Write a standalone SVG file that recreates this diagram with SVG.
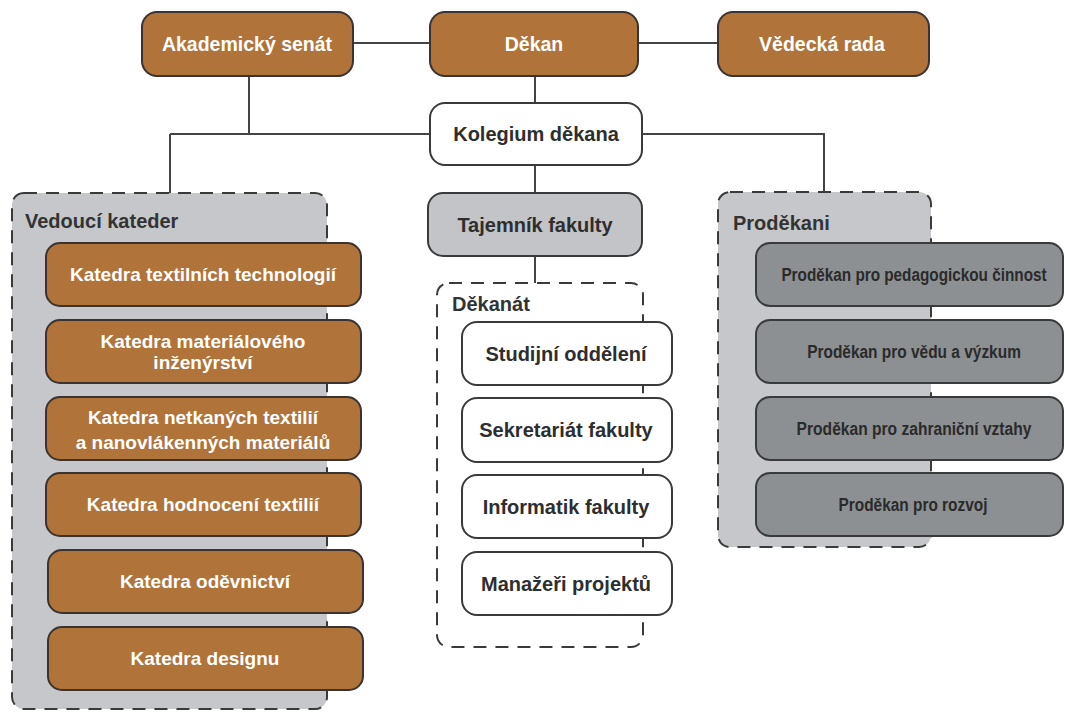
<svg xmlns="http://www.w3.org/2000/svg" width="1065" height="713" viewBox="0 0 1065 713">
<style>
.brown{fill:#b0733a;stroke:#3a3330;stroke-width:2}
.white{fill:#ffffff;stroke:#3a3a3a;stroke-width:2}
.grey{fill:#c2c4c7;stroke:#3a3a3a;stroke-width:2}
.dark{fill:#8d9093;stroke:#3a3a3a;stroke-width:2}
.cont{stroke:#3a3a3a;stroke-width:2;stroke-dasharray:13 9}
.line{fill:none;stroke:#444;stroke-width:2}
text{font-family:"Liberation Sans",Arial,sans-serif;font-weight:bold;text-anchor:middle}
.tw{fill:#fff;font-size:19px}
.top{fill:#fff;font-size:19.5px}
.tb{fill:#2e2e2e;font-size:20px}
.tc{fill:#2a2a2a;font-size:19px}
.title{fill:#333;font-size:20px;text-anchor:start}
</style>
<g id="connectors">
<path class="line" d="M353 43H430M638 43H718"/>
<path class="line" d="M535 76V103M535 165V193M535 256V283"/>
<path class="line" d="M249 76V134M170 134H430M170 134V193"/>
<path class="line" d="M642 134H824V192"/>
</g>
<g id="vedouci-kateder">
<rect class="cont" x="12" y="193" width="315" height="516" rx="12" fill="#c5c7ca"/>
<text class="title" x="25" y="228">Vedoucí kateder</text>
</g>
<g id="dekanat">
<rect class="cont" x="437" y="283" width="206" height="364" rx="12" fill="#ffffff"/>
<text class="title" x="452" y="311">Děkanát</text>
</g>
<g id="prodekani">
<rect class="cont" x="718" y="192" width="213" height="355" rx="12" fill="#c5c7ca"/>
<text class="title" x="733" y="230">Proděkani</text>
</g>
<g id="akademicky-senat"><rect class="brown" x="142" y="12" width="211" height="64" rx="15"/><text class="top" x="247" y="51">Akademický senát</text></g>
<g id="dekan"><rect class="brown" x="430" y="12" width="208" height="64" rx="15"/><text class="top" x="534" y="51">Děkan</text></g>
<g id="vedecka-rada"><rect class="brown" x="718" y="12" width="211" height="64" rx="15"/><text class="top" x="822" y="51">Vědecká rada</text></g>
<g id="kolegium"><rect class="white" x="430" y="103" width="212" height="62" rx="15"/><text class="tb" x="536" y="141">Kolegium děkana</text></g>
<g id="tajemnik"><rect class="grey" x="428" y="193" width="214" height="63" rx="15"/><text class="tb" x="535" y="232">Tajemník fakulty</text></g>
<g id="k1"><rect class="brown" x="46" y="243" width="315" height="63" rx="14"/><text class="tw" x="203" y="281">Katedra textilních technologií</text></g>
<g id="k2"><rect class="brown" x="46" y="320" width="315" height="63" rx="14"/><text class="tw" x="203" y="348">Katedra materiálového</text><text class="tw" x="203" y="369">inženýrství</text></g>
<g id="k3"><rect class="brown" x="46" y="397" width="315" height="63" rx="14"/><text class="tw" x="203" y="424">Katedra netkaných textilií</text><text class="tw" x="203" y="449">a nanovlákenných materiálů</text></g>
<g id="k4"><rect class="brown" x="46" y="473" width="315" height="63" rx="14"/><text class="tw" x="203" y="511">Katedra hodnocení textilií</text></g>
<g id="k5"><rect class="brown" x="48" y="550" width="315" height="63" rx="14"/><text class="tw" x="205" y="588">Katedra oděvnictví</text></g>
<g id="k6"><rect class="brown" x="48" y="627" width="315" height="63" rx="14"/><text class="tw" x="205" y="665">Katedra designu</text></g>
<g id="d1"><rect class="white" x="462" y="322" width="210" height="63" rx="15"/><text class="tb" x="566" y="361">Studijní oddělení</text></g>
<g id="d2"><rect class="white" x="462" y="398" width="210" height="64" rx="15"/><text class="tb" x="566" y="437">Sekretariát fakulty</text></g>
<g id="d3"><rect class="white" x="462" y="475" width="210" height="63" rx="15"/><text class="tb" x="566" y="514">Informatik fakulty</text></g>
<g id="d4"><rect class="white" x="462" y="552" width="210" height="63" rx="15"/><text class="tb" x="566" y="591">Manažeři projektů</text></g>
<g id="p1"><rect class="dark" x="756" y="243" width="307" height="63" rx="14"/><text class="tc" transform="translate(914 281) scale(0.78 1)" x="0" y="0" textLength="340" lengthAdjust="spacingAndGlyphs">Proděkan pro pedagogickou činnost</text></g>
<g id="p2"><rect class="dark" x="756" y="320" width="307" height="63" rx="14"/><text class="tc" transform="translate(914 358) scale(0.78 1)" x="0" y="0" textLength="274" lengthAdjust="spacingAndGlyphs">Proděkan pro vědu a výzkum</text></g>
<g id="p3"><rect class="dark" x="756" y="397" width="307" height="63" rx="14"/><text class="tc" transform="translate(914 435) scale(0.78 1)" x="0" y="0" textLength="301" lengthAdjust="spacingAndGlyphs">Proděkan pro zahraniční vztahy</text></g>
<g id="p4"><rect class="dark" x="756" y="473" width="307" height="63" rx="14"/><text class="tc" transform="translate(913 511) scale(0.78 1)" x="0" y="0" textLength="191" lengthAdjust="spacingAndGlyphs">Proděkan pro rozvoj</text></g>
</svg>
